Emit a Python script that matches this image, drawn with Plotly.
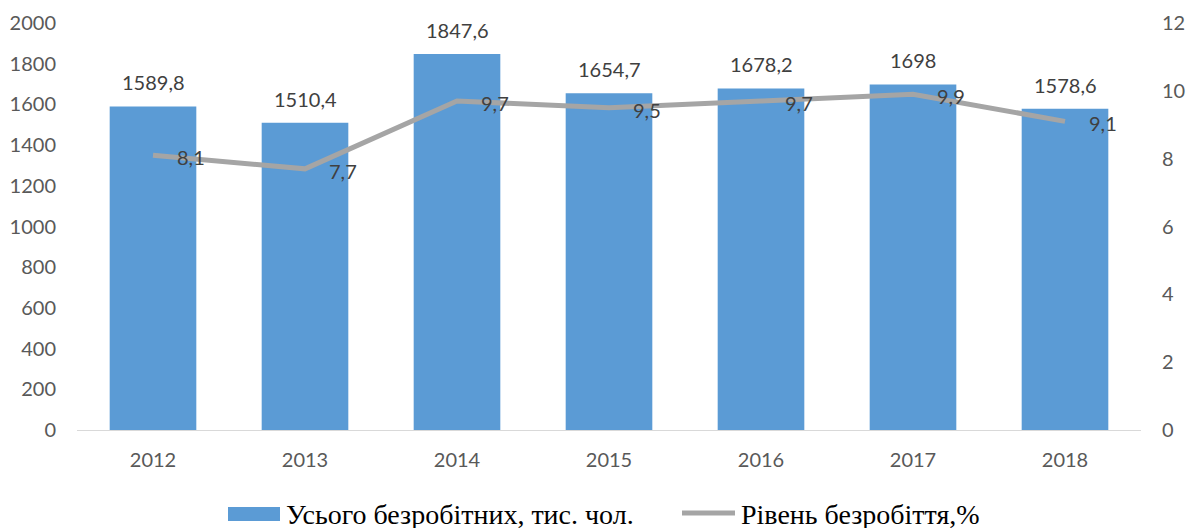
import plotly.graph_objects as go

years = ["2012", "2013", "2014", "2015", "2016", "2017", "2018"]
unemployed = [1589.8, 1510.4, 1847.6, 1654.7, 1678.2, 1698.0, 1578.6]
unemployed_labels = ["1589,8", "1510,4", "1847,6", "1654,7", "1678,2", "1698", "1578,6"]
rate = [8.1, 7.7, 9.7, 9.5, 9.7, 9.9, 9.1]
rate_labels = ["8,1", "7,7", "9,7", "9,5", "9,7", "9,9", "9,1"]
left_ticks = [0, 200, 400, 600, 800, 1000, 1200, 1400, 1600, 1800, 2000]
right_ticks = [0, 2, 4, 6, 8, 10, 12]
bar_name = "Усього безробітних, тис. чол."
line_name = "Рівень безробіття,%"

BAR_COLOR = "#5B9BD5"
LINE_COLOR = "#A5A5A5"
TXT = "#404040"
TICK = "#595959"
FONT = "Lato, Open Sans, sans-serif"
SERIF = "Liberation Serif, Times New Roman, serif"

W, H = 1190, 528
L, R, T, B = 77, 1141, 23, 430

fig = go.Figure()
fig.add_trace(go.Bar(x=years, y=unemployed, marker_color=BAR_COLOR,
                     marker_line_width=0, name=bar_name, yaxis="y"))
fig.add_trace(go.Scatter(x=years, y=rate, mode="lines", name=line_name,
                         line=dict(color=LINE_COLOR, width=5), yaxis="y2"))

annotations = []
for i, (v, t) in enumerate(zip(unemployed, unemployed_labels)):
    annotations.append(dict(x=i, y=v, xref="x", yref="y", text=t, showarrow=False,
                            yshift=24, font=dict(family=FONT, size=20, color=TXT)))
for i, (v, t) in enumerate(zip(rate, rate_labels)):
    annotations.append(dict(x=i, y=v, xref="x", yref="y2", text=t, showarrow=False,
                            xanchor="left", xshift=22, yshift=-2,
                            font=dict(family=FONT, size=20, color=TXT)))

px = lambda v: (v - L) / (R - L)
py = lambda v: (B - v) / (B - T)
shapes = [
    dict(type="rect", xref="paper", yref="paper", x0=px(228), x1=px(280),
         y0=py(521), y1=py(507), fillcolor=BAR_COLOR, line_width=0),
    dict(type="line", xref="paper", yref="paper", x0=px(682), x1=px(735),
         y0=py(513), y1=py(513), line=dict(color=LINE_COLOR, width=5)),
]
annotations.append(dict(xref="paper", yref="paper", x=px(284), y=py(514.5), text=bar_name,
                        showarrow=False, xanchor="left", yanchor="middle",
                        font=dict(family=SERIF, size=28, color="#000000")))
annotations.append(dict(xref="paper", yref="paper", x=px(739), y=py(514.5), text=line_name,
                        showarrow=False, xanchor="left", yanchor="middle",
                        font=dict(family=SERIF, size=28, color="#000000")))

fig.update_layout(
    width=W, height=H,
    margin=dict(l=L, r=W - R, t=T, b=H - B, autoexpand=False),
    paper_bgcolor="white", plot_bgcolor="white",
    showlegend=False, bargap=0.43,
    xaxis=dict(type="category", range=[-0.5, len(years) - 0.5], showgrid=False,
               showline=True, linecolor="#D9D9D9", linewidth=1, ticks="",
               ticklabelstandoff=12, tickfont=dict(family=FONT, size=20, color=TICK)),
    yaxis=dict(range=[0, 2000], tickvals=left_ticks, showgrid=False, zeroline=False,
               showline=False, ticks="", ticklabelstandoff=20,
               tickfont=dict(family=FONT, size=20, color=TICK)),
    yaxis2=dict(range=[0, 12], tickvals=right_ticks, overlaying="y", side="right",
                showgrid=False, zeroline=False, showline=False, ticks="",
                ticklabelstandoff=20, tickfont=dict(family=FONT, size=20, color=TICK)),
    annotations=annotations, shapes=shapes,
)

fig.write_html(
    "out.html",
    config={"displayModeBar": False},
    post_script=("document.documentElement.style.overflow='hidden';"
                 "document.body.style.margin='0';"
                 "document.body.style.overflow='hidden';"),
)
